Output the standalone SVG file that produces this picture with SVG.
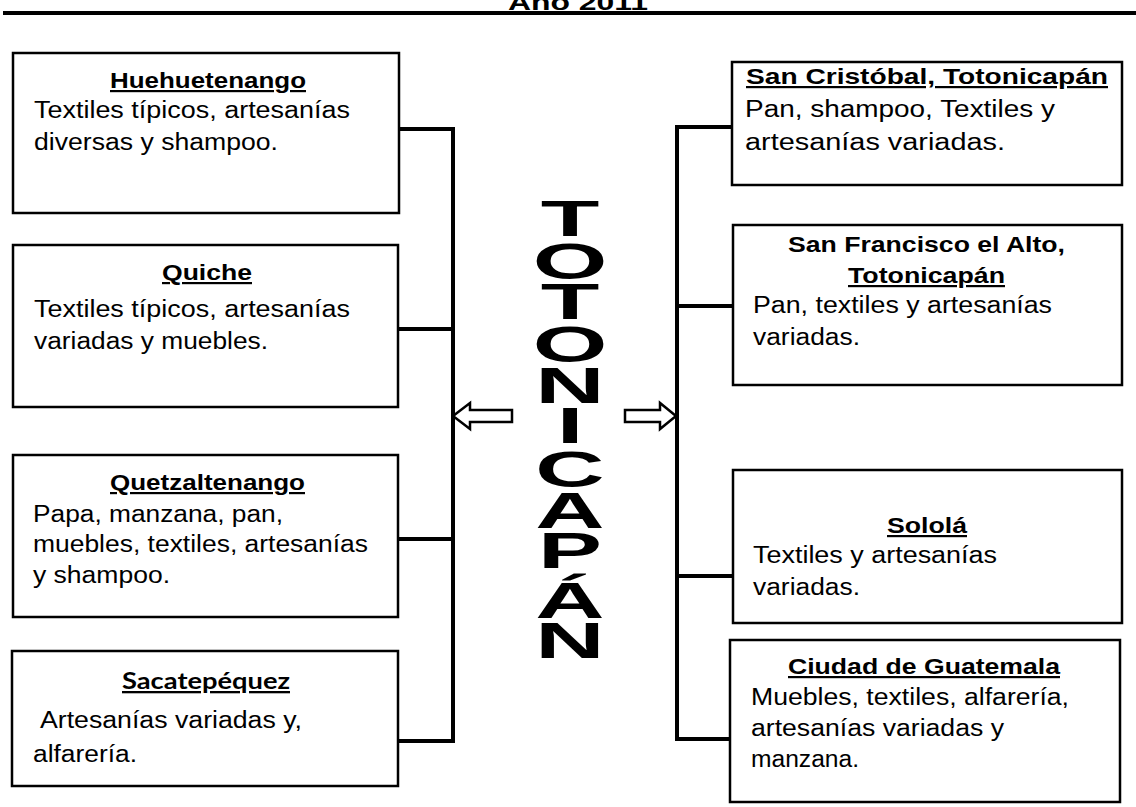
<svg xmlns="http://www.w3.org/2000/svg" width="1136" height="807" viewBox="0 0 1136 807">
<style>
.box{fill:#fff;stroke:#000;stroke-width:2.5}
.t{font-family:"Liberation Sans",Arial,sans-serif;font-size:22px;font-weight:bold;fill:#000}
.u{text-decoration:underline}
.b{font-family:"Liberation Sans",Arial,sans-serif;font-size:23.5px;fill:#000}
.c{fill:none;stroke:#000;stroke-width:4}
.arr{fill:#fff;stroke:#000;stroke-width:2.5;stroke-linejoin:miter}
.big{font-family:"Liberation Sans",Arial,sans-serif;font-size:50px;font-weight:bold;fill:#000}
</style>
<rect width="1136" height="807" fill="#fff"/>
<text x="578" y="10" text-anchor="middle" class="t" font-size="24" textLength="140" lengthAdjust="spacingAndGlyphs">Año 2011</text>
<rect x="3" y="11" width="1133" height="4" fill="#000"/>

<g id="connectors">
<path class="c" d="M399,129 H453 V741 H399 M399,329 H453 M399,539 H453"/>
<path class="c" d="M732,127 H677 V739 H730 M733,306 H677 M733,576 H677"/>
<polygon class="arr" points="453,416 470,403 470,410 512,410 512,422 470,422 470,429"/>
<polygon class="arr" points="676,416 660,403 660,410 625,410 625,422 660,422 660,429"/>
</g>

<g id="center">
<g transform="translate(570,0) scale(1.92,1)">
<text class="big" text-anchor="middle" x="0 0 0 0 0 0 0 0 0 0 0" y="236 279 319 362 403 443 487 528 568 618 658">TOTONICAPÁN</text>
</g>
</g>

<g id="huehuetenango">
<rect class="box" x="13" y="53" width="386" height="160"/>
<text class="t u" x="110" y="88" textLength="196" lengthAdjust="spacingAndGlyphs">Huehuetenango</text>
<text class="b" x="34" y="118" textLength="316" lengthAdjust="spacingAndGlyphs">Textiles típicos, artesanías</text>
<text class="b" x="34" y="150" textLength="244" lengthAdjust="spacingAndGlyphs">diversas y shampoo.</text>
</g>

<g id="quiche">
<rect class="box" x="13" y="245" width="385" height="162"/>
<text class="t u" x="162" y="280" textLength="90" lengthAdjust="spacingAndGlyphs">Quiche</text>
<text class="b" x="34" y="317" textLength="316" lengthAdjust="spacingAndGlyphs">Textiles típicos, artesanías</text>
<text class="b" x="34" y="349" textLength="234" lengthAdjust="spacingAndGlyphs">variadas y muebles.</text>
</g>

<g id="quetzaltenango">
<rect class="box" x="13" y="455" width="385" height="162"/>
<text class="t u" x="110" y="490" textLength="195" lengthAdjust="spacingAndGlyphs">Quetzaltenango</text>
<text class="b" x="33" y="522" textLength="250" lengthAdjust="spacingAndGlyphs">Papa, manzana, pan,</text>
<text class="b" x="33" y="552" textLength="335" lengthAdjust="spacingAndGlyphs">muebles, textiles, artesanías</text>
<text class="b" x="33" y="583" textLength="137" lengthAdjust="spacingAndGlyphs">y shampoo.</text>
</g>

<g id="sacatepequez">
<rect class="box" x="12" y="651" width="386" height="135"/>
<text class="u" x="122" y="689" font-family="Lato,'Open Sans',sans-serif" font-weight="bold" font-size="23" textLength="168" lengthAdjust="spacingAndGlyphs">Sacatepéquez</text>
<text class="b" x="40" y="728" textLength="262" lengthAdjust="spacingAndGlyphs">Artesanías variadas y,</text>
<text class="b" x="33" y="762" textLength="104" lengthAdjust="spacingAndGlyphs">alfarería.</text>
</g>

<g id="san-cristobal">
<rect class="box" x="732" y="62" width="390" height="123"/>
<text class="t u" x="746" y="84" textLength="362" lengthAdjust="spacingAndGlyphs">San Cristóbal, Totonicapán</text>
<text class="b" x="745" y="117" textLength="310" lengthAdjust="spacingAndGlyphs">Pan, shampoo, Textiles y</text>
<text class="b" x="745" y="150" textLength="260" lengthAdjust="spacingAndGlyphs">artesanías variadas.</text>
</g>

<g id="san-francisco">
<rect class="box" x="733" y="225" width="389" height="160"/>
<text class="t" x="788" y="252" textLength="277" lengthAdjust="spacingAndGlyphs">San Francisco el Alto,</text>
<text class="t u" x="848" y="283" textLength="157" lengthAdjust="spacingAndGlyphs">Totonicapán</text>
<text class="b" x="753" y="313" textLength="299" lengthAdjust="spacingAndGlyphs">Pan, textiles y artesanías</text>
<text class="b" x="753" y="345" textLength="107" lengthAdjust="spacingAndGlyphs">variadas.</text>
</g>

<g id="solola">
<rect class="box" x="733" y="470" width="389" height="153"/>
<text class="t u" x="887" y="533" textLength="80" lengthAdjust="spacingAndGlyphs">Sololá</text>
<text class="b" x="753" y="563" textLength="244" lengthAdjust="spacingAndGlyphs">Textiles y artesanías</text>
<text class="b" x="753" y="595" textLength="107" lengthAdjust="spacingAndGlyphs">variadas.</text>
</g>

<g id="ciudad-guatemala">
<rect class="box" x="730" y="640" width="390" height="162"/>
<text class="t u" x="788" y="674" textLength="272" lengthAdjust="spacingAndGlyphs">Ciudad de Guatemala</text>
<text class="b" x="751" y="705" textLength="318" lengthAdjust="spacingAndGlyphs">Muebles, textiles, alfarería,</text>
<text class="b" x="751" y="736" textLength="253" lengthAdjust="spacingAndGlyphs">artesanías variadas y</text>
<text class="b" x="751" y="767" textLength="108" lengthAdjust="spacingAndGlyphs">manzana.</text>
</g>
</svg>
